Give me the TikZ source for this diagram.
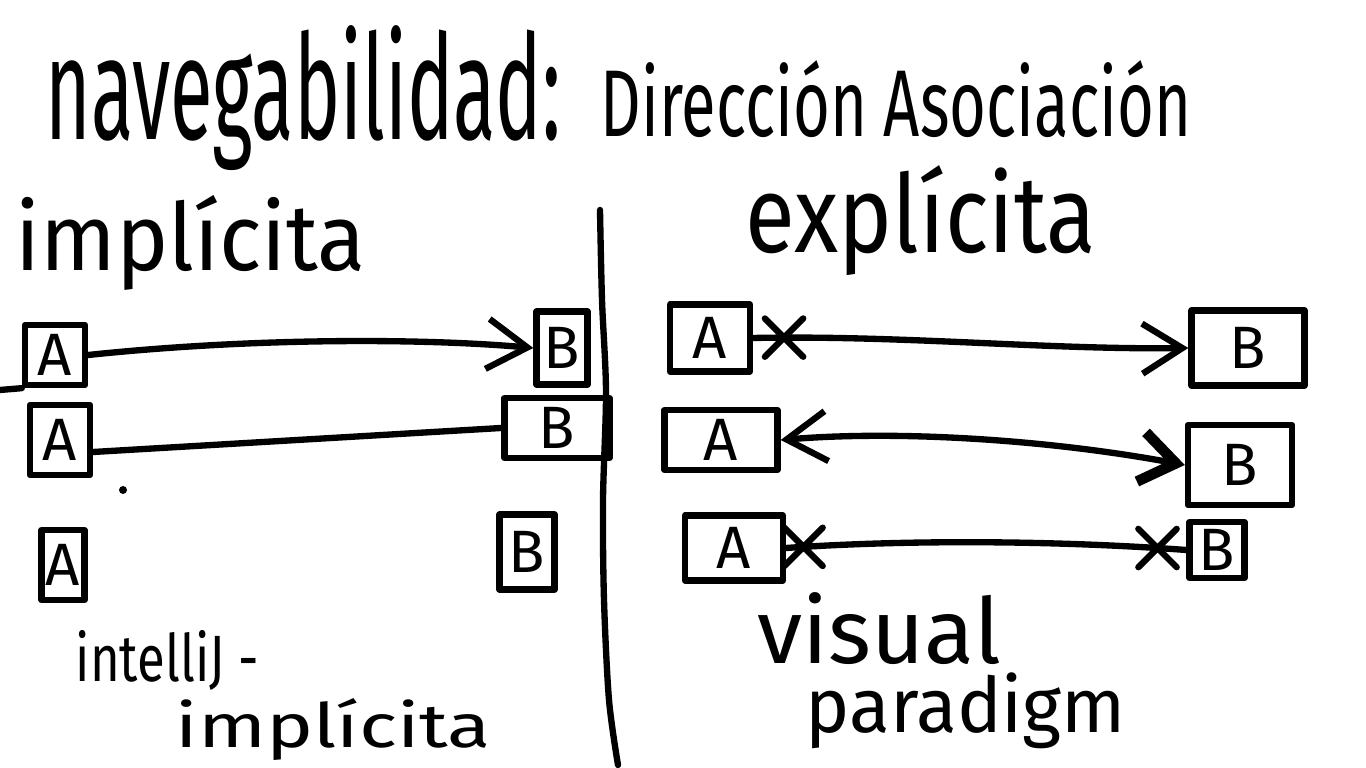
\documentclass[tikz,border=0pt]{standalone}
\usepackage{fontspec}
\setmainfont{Fira Sans}
\usetikzlibrary{arrows.meta,shapes.misc}
\begin{document}
\begin{tikzpicture}[x=0.01cm,y=-0.01cm,
  pen/.style={line width=1.8pt,line cap=round,line join=round},
  box/.style={draw,pen,inner sep=0pt,font=\fontsize{17}{17}\selectfont},
  txt/.style={anchor=north west,inner sep=0pt},
  link/.style={pen},
  barb/.style={-{Straight Barb[length=0.4cm,width=0.5cm]}},
  xmark/.style={cross out,draw,pen,minimum size=0.32cm,inner sep=0pt}]
\useasboundingbox (0,0) rectangle (1366,768);
% titles
\node[txt] (t1) at (45,25) {\resizebox*{5.15cm}{1.45cm}{navegabilidad:}};
\node[txt] (t2) at (600,60) {\resizebox*{5.9cm}{0.77cm}{Dirección Asociación}};
\node[txt] (imp) at (15,195) {\resizebox*{3.5cm}{0.95cm}{implícita}};
\node[txt] (exp) at (745,165) {\resizebox*{3.5cm}{1.1cm}{explícita}};
\node[txt] (ij) at (75,630) {\resizebox*{1.83cm}{0.6cm}{intelliJ -}};
\node[txt] (ij2) at (175,698) {\resizebox*{3.15cm}{0.62cm}{implícita}};
\node[txt] (vp1) at (757,592) {\resizebox*{2.43cm}{0.72cm}{visual}};
\node[txt] (vp2) at (805,672) {\resizebox*{3.2cm}{0.76cm}{paradigm}};
% divider
\draw[pen] plot[smooth] coordinates {(600,210) (602,300) (606,392) (603,500) (604,600) (609,700) (618,765)};
% left boxes
\node[box,minimum width=0.60cm,minimum height=0.60cm] (l1a) at (55,355) {A};
\node[box,minimum width=0.51cm,minimum height=0.73cm] (l1b) at (562,348) {B};
\node[box,minimum width=0.60cm,minimum height=0.70cm] (l2a) at (60,440) {A};
\node[box,minimum width=1.05cm,minimum height=0.60cm] (l2b) at (557,428) {B};
\node[box,minimum width=0.43cm,minimum height=0.70cm] (l3a) at (63,565) {A};
\node[box,minimum width=0.55cm,minimum height=0.75cm] (l3b) at (527,552) {B};
\draw[pen] (0,390) -- (l1a.south west);
\fill (123,490) circle (4);
% left connectors
\draw[link,barb] (l1a.east) .. controls (250,338) and (420,338) .. (l1b.west);
\draw[link] ([yshift=-0.12cm]l2a.east) -- (l2b.west);
% right boxes
\node[box,minimum width=0.80cm,minimum height=0.67cm] (r1a) at (710,338) {A};
\node[box,minimum width=1.13cm,minimum height=0.75cm] (r1b) at (1248,348) {B};
\node[box,minimum width=1.13cm,minimum height=0.60cm] (r2a) at (721,440) {A};
\node[box,minimum width=1.04cm,minimum height=0.80cm] (r2b) at (1240,465) {B};
\node[box,minimum width=0.98cm,minimum height=0.65cm] (r3a) at (734,548) {A};
\node[box,minimum width=0.55cm,minimum height=0.56cm] (r3b) at (1217,550) {B};
% right connectors
\draw[link,barb] (r1a.east) .. controls (900,335) and (1050,350) .. (r1b.west) node[xmark,pos=0.07] (x1) {};
\draw[link,{Straight Barb[length=0.4cm,width=0.5cm]}-{Straight Barb[length=0.35cm,width=0.5cm,line width=3pt]}] (r2a.east) .. controls (900,430) and (1050,440) .. (r2b.west);
\draw[link] (r3a.east) .. controls (900,540) and (1050,540) .. (r3b.west)
  node[xmark,pos=0.05] (x2) {} node[xmark,pos=0.93] (x3) {};
\end{tikzpicture}
\end{document}
